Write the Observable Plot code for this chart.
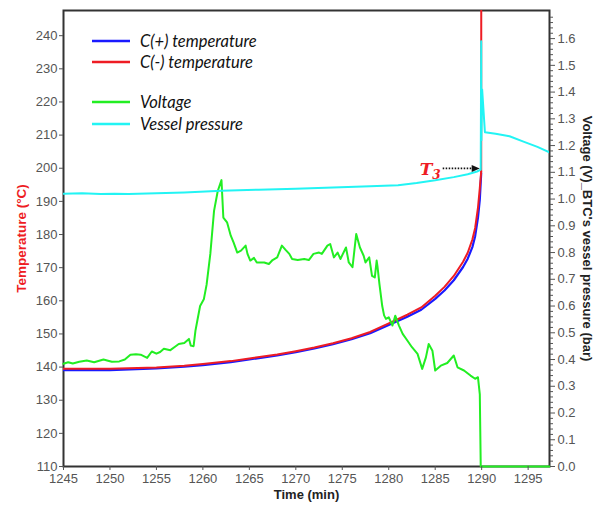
<!DOCTYPE html>
<html><head><meta charset="utf-8">
<script src="https://cdn.jsdelivr.net/npm/d3@7"></script>
<script src="https://cdn.jsdelivr.net/npm/@observablehq/plot@0.6"></script>
<style>body{margin:0;background:#fff} #chart svg{display:block;overflow:visible}</style>
</head><body><div id="chart"></div>
<script>
// ---- data ----
const tempTime  = [1245,1250,1255,1258,1260,1263,1265,1268,1270,1272,1274,1276,1278,1280,1282,1283.5,1285,1286,1287,1288,1288.5,1289,1289.3,1289.6,1289.8,1289.95];
const tempMinus = [139.5,139.5,139.9,140.4,140.9,141.8,142.6,143.8,144.8,145.9,147.2,148.7,150.6,153.2,155.8,158.0,161.5,164.2,167.5,171.8,174.5,178.5,182,188,194,199];
const tempPlus  = [139.1,139.1,139.6,140.1,140.6,141.5,142.3,143.5,144.5,145.6,146.9,148.4,150.2,152.7,155.2,157.3,160.6,163.1,166.2,170.2,172.7,176.2,179.5,185,190.5,198.5];
const tempSpikeTime = [1289.95, 1289.96];
const tempSpike = [199, 300];

const voltTime = [1245.0,1245.5,1246.0,1246.7,1247.5,1248.3,1249.3,1250.2,1251.0,1251.6,1252.2,1252.8,1253.3,1254.0,1254.5,1255.0,1255.4,1255.8,1256.5,1257.0,1257.4,1258.0,1258.5,1258.7,1259.0,1259.2,1259.4,1259.7,1260.1,1260.4,1260.8,1261.2,1261.6,1262.0,1262.2,1262.6,1263.0,1263.3,1263.7,1264.1,1264.6,1264.8,1265.1,1265.5,1265.8,1266.6,1267.1,1267.5,1268.0,1268.5,1268.9,1269.3,1269.6,1270.2,1270.9,1271.4,1271.9,1272.5,1272.8,1273.4,1273.7,1274.1,1274.5,1274.8,1275.4,1275.7,1276.1,1276.5,1276.9,1277.3,1277.5,1277.9,1278.2,1278.5,1278.7,1278.8,1279.0,1279.3,1279.5,1279.7,1280.0,1280.4,1280.7,1281.1,1281.5,1282.0,1282.5,1283.1,1283.6,1284.0,1284.3,1284.7,1285.0,1285.6,1286.3,1287.0,1287.4,1288.1,1288.8,1289.3,1289.6,1289.8,1289.9,1297.3];
const voltage  = [0.384,0.39,0.385,0.392,0.396,0.39,0.40,0.392,0.393,0.40,0.418,0.42,0.418,0.406,0.43,0.422,0.428,0.44,0.435,0.448,0.458,0.462,0.477,0.452,0.45,0.508,0.545,0.600,0.625,0.68,0.795,0.956,1.03,1.071,0.931,0.913,0.863,0.838,0.80,0.807,0.826,0.795,0.77,0.78,0.763,0.763,0.757,0.772,0.782,0.826,0.81,0.795,0.776,0.772,0.776,0.772,0.795,0.80,0.795,0.826,0.832,0.782,0.80,0.776,0.819,0.763,0.745,0.869,0.819,0.788,0.763,0.782,0.713,0.707,0.77,0.745,0.682,0.60,0.565,0.552,0.558,0.527,0.564,0.527,0.496,0.471,0.446,0.421,0.365,0.408,0.458,0.433,0.359,0.377,0.387,0.415,0.371,0.359,0.34,0.328,0.334,0.27,0,0];

const presTime = [1245,1247,1249,1250.5,1252,1255,1258,1262,1266,1270,1274,1278,1281,1283,1285,1287,1288.5,1289.5,1289.9,1289.95,1289.97,1290.05,1290.35,1291.5,1293,1294.5,1296,1297.3];
const pressure = [1.020,1.022,1.019,1.020,1.019,1.022,1.025,1.031,1.035,1.039,1.043,1.048,1.052,1.060,1.070,1.082,1.093,1.103,1.11,1.59,1.22,1.41,1.25,1.244,1.235,1.215,1.195,1.175];

const xTicks = [1245,1250,1255,1260,1265,1270,1275,1280,1285,1290,1295];
const tempTicks = [110,120,130,140,150,160,170,180,190,200,210,220,230,240];
const rightTicks = [0,0.1,0.2,0.3,0.4,0.5,0.6,0.7,0.8,0.9,1.0,1.1,1.2,1.3,1.4,1.5,1.6];
const rightMinor = d3.range(0, 86).map(i => i * 0.02).filter(v => Math.abs(v*10 - Math.round(v*10)) > 1e-6);

const legendLabels = ["C(+) temperature", "C(-) temperature", "Voltage", "Vessel pressure"];
const legendColors = ["#1a1aff", "#ee1c24", "#22ee22", "#22f4f4"];
const colPlus = "#1a1aff", colMinus = "#ee1c24", colVolt = "#22ee22", colPres = "#22f4f4";

// right axis (V / bar) mapped onto the temperature scale
const T0 = 110, K = 80.7;
const toT = v => T0 + v * K;

const chart = Plot.plot({
  width: 598, height: 507,
  marginLeft: 63, marginRight: 49, marginTop: 10, marginBottom: 41,
  style: {fontSize: "13px", fontFamily: "'Liberation Sans', Arial, sans-serif", background: "#fff"},
  x: {domain: [1245, 1297.3]},
  y: {domain: [110, 247.6]},
  marks: [
    Plot.frame({stroke: "#333", strokeWidth: 2}),
    Plot.line(tempPlus, {x: (d, i) => tempTime[i], y: d => d, stroke: colPlus, strokeWidth: 2.2, clip: true}),
    Plot.line(tempMinus, {x: (d, i) => tempTime[i], y: d => d, stroke: colMinus, strokeWidth: 2, clip: true}),
    Plot.line(tempSpike, {x: (d, i) => tempSpikeTime[i], y: d => d, stroke: colMinus, strokeWidth: 2, clip: true}),
    Plot.line(voltage, {x: (d, i) => voltTime[i], y: d => toT(d), stroke: colVolt, strokeWidth: 2}),
    Plot.line(pressure, {x: (d, i) => presTime[i], y: d => toT(d), stroke: colPres, strokeWidth: 2, clip: true}),
    Plot.axisY(tempTicks, {anchor: "left", tickSize: 4, tickPadding: 2, color: "#555", label: null, tickFormat: d => String(d)}),
    Plot.axisX(xTicks, {anchor: "bottom", tickSize: 4, tickPadding: 3, color: "#555", label: null, tickFormat: d => String(d)}),
    Plot.axisY(rightTicks.map(toT), {anchor: "right", tickSize: 5, tickPadding: 3, color: "#555", label: null,
      tickFormat: d => ((d - T0) / K).toFixed(1)}),
    Plot.axisY(rightMinor.map(toT), {anchor: "right", tickSize: 3, color: "#555", label: null, tickFormat: () => ""}),
    Plot.text(["Temperature (°C)"], {frameAnchor: "left", textAnchor: "middle", dx: -42, rotate: -90, fill: "#ee1c24", fontWeight: "bold", fontSize: 13.5}),
    Plot.text(["Voltage (V)_BTC's vessel pressure (bar)"], {frameAnchor: "right", textAnchor: "middle", dx: 38, rotate: 90, fill: "#222", fontWeight: "bold", fontSize: 13}),
    Plot.text(["Time (min)"], {frameAnchor: "bottom", textAnchor: "middle", dy: 32, fill: "#222", fontWeight: "bold", fontSize: 13})
  ]
});
document.getElementById("chart").appendChild(chart);

// legend and annotation
const svg = d3.select(chart);
const legendY = [41, 62, 102, 124];
const lg = svg.append("g").attr("text-anchor", "start");
legendLabels.forEach((lab, i) => {
  lg.append("line").attr("x1", 92).attr("x2", 130).attr("y1", legendY[i]).attr("y2", legendY[i])
    .attr("stroke", legendColors[i]).attr("stroke-width", 2.5);
  lg.append("text").attr("x", 140).attr("y", legendY[i]).attr("dy", "0.35em")
    .attr("text-anchor", "start")
    .attr("font-family", "Lato, 'Open Sans', sans-serif").attr("font-style", "italic")
    .attr("font-size", 16.5).attr("fill", "#111").text(lab);
});

const xs = chart.scale("x"), ys = chart.scale("y");
const px = xs.apply(1289.95), py = ys.apply(199.5);
const ann = svg.append("g").attr("text-anchor", "start");
const t = ann.append("text").attr("x", px - 61).attr("y", py + 6).attr("text-anchor", "start")
  .attr("font-family", "'DejaVu Serif', serif").attr("font-style", "italic").attr("font-weight", "bold")
  .attr("font-size", 17).attr("fill", "#ee1c24");
t.append("tspan").text("T");
t.append("tspan").attr("font-size", 12).attr("dy", 4).text("3");
ann.append("line").attr("x1", px - 38).attr("x2", px - 8).attr("y1", py - 1).attr("y2", py - 1)
  .attr("stroke", "#111").attr("stroke-width", 1.6).attr("stroke-dasharray", "1.5,1.5");
ann.append("path").attr("d", `M${px-1},${py-1} L${px-9},${py-4.5} L${px-9},${py+2.5} Z`).attr("fill", "#111");
</script>
</body></html>
